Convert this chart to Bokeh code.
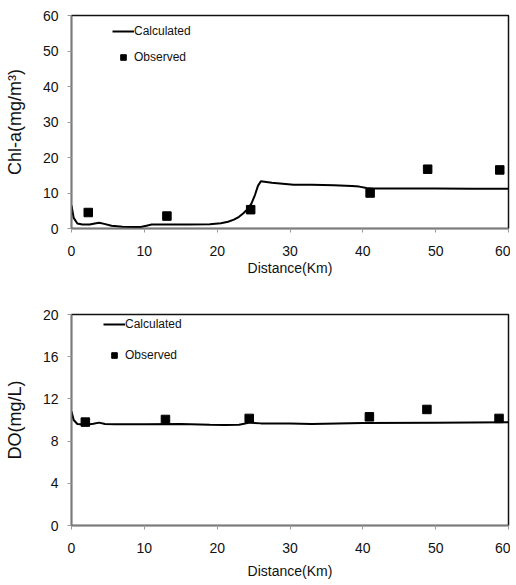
from bokeh.plotting import figure
from bokeh.layouts import column
from bokeh.models import Range1d, Legend, LegendItem, FixedTicker
from bokeh.embed import file_html
from bokeh.resources import INLINE

# ---- Data: Chl-a ----
chl_calc_x = [0, 0.3, 0.8, 1.5, 2.5, 3.2, 3.8, 4.5, 5.5, 7, 8.5, 9.5, 10.3, 11, 13, 16, 19,
              20.5, 21.5, 22.3, 23, 23.6, 24.2, 24.7, 25.2, 25.6, 26.0, 26.5, 27.5, 29, 30.5,
              33, 36, 38.5, 39.5, 40.5, 41.5, 45, 50, 55, 60]
chl_calc_y = [6.5, 3.0, 1.4, 1.1, 1.1, 1.4, 1.6, 1.3, 0.8, 0.5, 0.4, 0.4, 0.8, 1.1, 1.1, 1.1, 1.2,
              1.5, 1.9, 2.5, 3.3, 4.3, 5.5, 7.0, 9.5, 12.0, 13.3, 13.2, 12.9, 12.6, 12.3,
              12.3, 12.2, 12.0, 11.8, 11.4, 11.3, 11.3, 11.3, 11.2, 11.2]
chl_obs_x = [2.3, 13.1, 24.6, 41.0, 48.9, 58.8]
chl_obs_y = [4.5, 3.5, 5.3, 10.0, 16.7, 16.5]

# ---- Data: DO ----
do_calc_x = [0, 0.3, 0.8, 2.0, 3.0, 3.8, 4.6, 6, 10, 15, 19, 21, 23, 24.5, 26, 30, 33, 40, 50, 60]
do_calc_y = [10.8, 10.0, 9.62, 9.55, 9.65, 9.75, 9.62, 9.6, 9.6, 9.62, 9.55, 9.52, 9.55, 9.75,
             9.68, 9.68, 9.62, 9.72, 9.75, 9.78]
do_obs_x = [1.9, 12.9, 24.4, 40.9, 48.8, 58.7]
do_obs_y = [9.8, 10.05, 10.15, 10.3, 11.0, 10.15]

x_ticks = [0, 10, 20, 30, 40, 50, 60]
chl_ticks = [0, 10, 20, 30, 40, 50, 60]
do_ticks = [0, 4, 8, 12, 16, 20]

FONT = "'Liberation Sans', Arial, sans-serif"


def make_fig(height, top, bottom, ymax, yticks, ylabel, xs, ys, ox, oy,
             leg_x, leg_y, leg_spacing, x_lab_standoff, x_title_standoff):
    p = figure(width=510, height=height, output_backend="svg", toolbar_location=None,
               x_range=Range1d(0, 60), y_range=Range1d(0, ymax),
               min_border_left=71, min_border_right=2, min_border_top=top, min_border_bottom=bottom)
    p.xgrid.visible = False
    p.ygrid.visible = False
    p.outline_line_color = "#111111"
    p.outline_line_width = 1.5
    p.background_fill_color = "white"
    p.border_fill_color = "white"

    for ax in (p.xaxis[0], p.yaxis[0]):
        ax.axis_line_color = "#7a7a7a"
        ax.axis_line_width = 1.5
        ax.major_tick_line_color = "#9a9a9a"
        ax.major_tick_in = 0
        ax.major_tick_out = 4
        ax.minor_tick_line_color = None
        ax.major_label_text_font = FONT
        ax.major_label_text_font_size = "14px"
        ax.major_label_text_color = "#111111"
        ax.axis_label_text_font = FONT
        ax.axis_label_text_font_style = "normal"
        ax.axis_label_text_color = "#111111"

    p.xaxis.axis_label_text_font_size = "14px"
    p.yaxis.axis_label_text_font_size = "18px"
    p.xaxis.ticker = FixedTicker(ticks=x_ticks)
    p.yaxis.ticker = FixedTicker(ticks=yticks)
    p.xaxis.axis_label = "Distance(Km)"
    p.yaxis.axis_label = ylabel
    p.xaxis.major_label_standoff = x_lab_standoff
    p.xaxis.axis_label_standoff = x_title_standoff
    p.yaxis.major_label_standoff = 9
    p.yaxis.axis_label_standoff = 15

    ln = p.line(xs, ys, line_color="black", line_width=2)
    sq = p.scatter(ox, oy, marker="square", size=8.5, fill_color="black", line_color="black")

    leg = Legend(items=[LegendItem(label="Calculated", renderers=[ln]),
                        LegendItem(label="Observed", renderers=[sq])],
                 location=(leg_x, leg_y), orientation="vertical",
                 border_line_alpha=0, background_fill_alpha=0,
                 padding=0, margin=0, spacing=leg_spacing,
                 glyph_width=22, glyph_height=14, label_height=14, label_standoff=0,
                 label_text_font=FONT, label_text_font_size="12px", label_text_color="#111111")
    p.add_layout(leg)
    return p


p1 = make_fig(290, 15, 62, 60, chl_ticks, "Chl-a(mg/m\u00b3)",
              chl_calc_x, chl_calc_y, chl_obs_x, chl_obs_y, 41, 164, 12, 13, 1)
p2 = make_fig(292, 24, 57, 20, do_ticks, "DO(mg/L)",
              do_calc_x, do_calc_y, do_obs_x, do_obs_y, 32, 163, 17, 13, 7)

layout = column(p1, p2, spacing=0)
open("out.html", "w").write(file_html(layout, INLINE))
